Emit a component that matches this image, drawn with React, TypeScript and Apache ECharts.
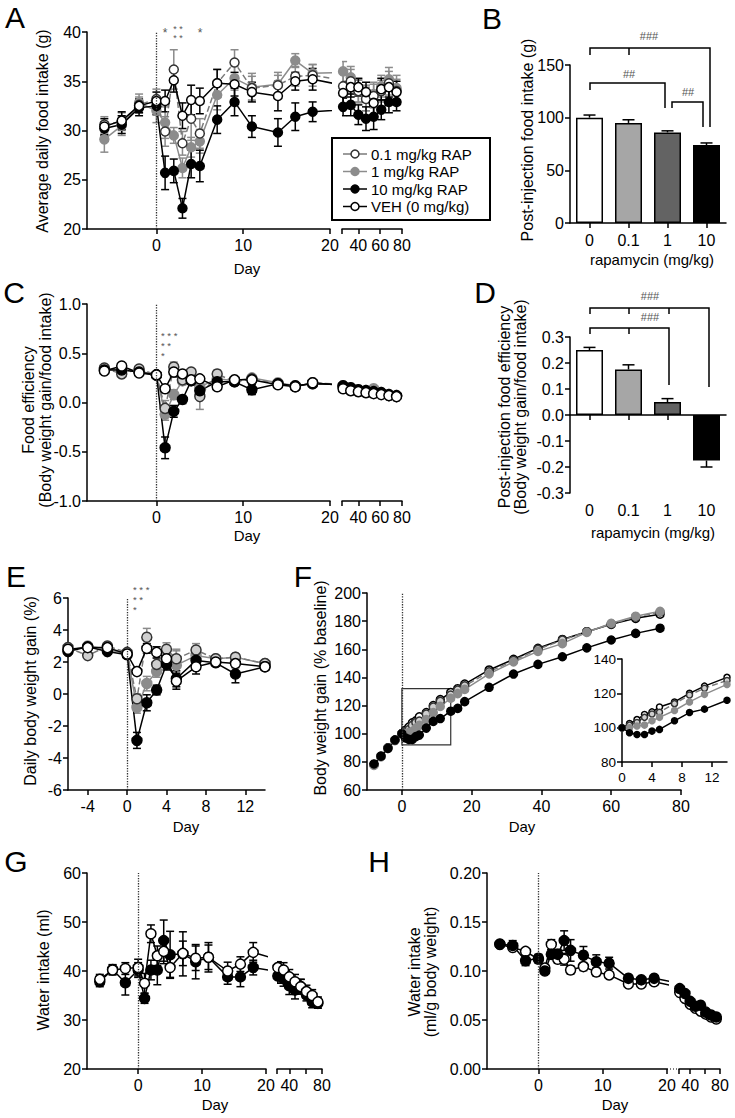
import React, { useEffect, useRef } from "react";
import * as echarts from "echarts";

const FONT = "Liberation Sans, Arial, Helvetica, sans-serif";

// ---------- days ----------
const daysSeg1 = [-6, -4, -2, 0, 1, 2, 3, 4, 5, 7, 9, 11, 14, 16, 18];
const daysSeg2 = [26, 33, 40, 47, 54, 61, 68, 75];
const daysE = [-6, -4, -2, 0, 1, 2, 3, 4, 5, 7, 9, 11, 14];
const daysF = [-8, -6, -4, -2, 0, 1, 2, 3, 4, 5, 7, 9, 11, 14, 16, 18, 25, 32, 39, 46, 53, 60, 67, 74];

// ---------- A: average daily food intake (g) ----------
const foodVeh1 = [30.4, 31.0, 32.5, 33.0, 33.0, 35.1, 31.5, 33.1, 33.0, 34.8, 34.7, 33.9, 33.5, 35.0, 35.2];
const foodVeh2 = [33.8, 34.4, 34.4, 33.9, 32.8, 34.2, 34.4, 33.9];
const foodVehErr1 = [0.8, 0.9, 0.7, 0.9, 1.1, 1.2, 1.3, 1.5, 1.3, 1.4, 1.2, 1.0, 1.5, 0.9, 1.1];
const foodVehErr2 = [1.1, 1.0, 0.9, 1.0, 1.2, 1.1, 1.0, 1.1];
const foodP1a = [30.6, 30.9, 32.6, 33.2, 29.9, 36.2, 28.7, 31.2, 29.7, 34.8, 36.9, 34.3, 34.6, 35.5, 35.6];
const foodP1b = [34.5, 35.0, 34.0, 33.2, 33.5, 34.0, 34.8, 34.0];
const foodP1Err1 = [0.8, 0.9, 0.8, 1.0, 1.5, 2.0, 1.2, 2.2, 1.5, 1.4, 1.3, 1.2, 1.3, 1.0, 1.1];
const foodP1Err2 = [1.2, 1.2, 1.1, 1.2, 1.2, 1.1, 1.2, 1.2];
const food1a = [29.1, 30.5, 32.8, 32.0, 30.8, 29.5, 26.2, 28.3, 28.9, 33.6, 35.3, 34.4, 34.7, 37.1, 35.8];
const food1b = [36.0, 35.4, 34.0, 33.3, 33.7, 34.5, 35.2, 34.3];
const food1Err1 = [1.3, 1.0, 0.9, 1.2, 1.6, 0.8, 1.0, 1.0, 1.2, 1.5, 1.2, 1.4, 0.9, 0.7, 0.9];
const food1Err2 = [1.0, 1.1, 1.2, 1.3, 1.2, 1.1, 1.2, 1.3];
const food10a = [30.2, 30.6, 32.3, 32.5, 25.7, 25.9, 22.1, 26.6, 26.4, 31.1, 32.9, 30.4, 29.8, 31.4, 31.9];
const food10b = [32.4, 32.6, 31.6, 31.2, 31.4, 32.1, 32.9, 32.9];
const food10Err1 = [0.7, 0.9, 0.8, 0.9, 1.7, 1.2, 1.0, 1.4, 1.6, 1.4, 1.4, 1.1, 1.4, 1.4, 1.0];
const food10Err2 = [0.9, 1.1, 1.0, 1.2, 1.3, 1.0, 1.1, 0.9];

// ---------- B / D: bars ----------
const doseLabels = ["0", "0.1", "1", "10"];
const postIntake = [100, 95, 86, 74];
const postIntakeErr = [2.5, 3, 1.5, 2];
const postEff = [0.25, 0.175, 0.05, -0.175];
const postEffErr = [0.01, 0.018, 0.013, 0.025];
const barFills = ["#ffffff", "#a6a6a6", "#636363", "#000000"];

// ---------- C: food efficiency ----------
const effVeh1 = [0.32, 0.37, 0.3, 0.28, 0.14, 0.31, 0.29, 0.23, 0.24, 0.16, 0.23, 0.23, 0.18, 0.16, 0.2];
const effVeh2 = [0.14, 0.12, 0.11, 0.1, 0.09, 0.08, 0.07, 0.06];
const effVehErr1 = [0.02, 0.02, 0.02, 0.02, 0.03, 0.05, 0.03, 0.02, 0.03, 0.03, 0.02, 0.02, 0.02, 0.02, 0.02];
const effP1a = [0.35, 0.29, 0.34, 0.28, -0.06, 0.36, 0.23, 0.31, 0.06, 0.29, 0.21, 0.24, 0.19, 0.16, 0.2];
const effP1b = [0.16, 0.14, 0.12, 0.11, 0.1, 0.09, 0.07, 0.06];
const effP1Err1 = [0.02, 0.02, 0.02, 0.02, 0.08, 0.05, 0.04, 0.03, 0.13, 0.04, 0.03, 0.03, 0.02, 0.02, 0.02];
const eff1a = [0.34, 0.33, 0.32, 0.28, -0.12, 0.08, 0.22, 0.25, 0.16, 0.24, 0.22, 0.25, 0.2, 0.17, 0.19];
const eff1b = [0.17, 0.15, 0.13, 0.12, 0.14, 0.1, 0.08, 0.07];
const eff1Err1 = [0.02, 0.02, 0.02, 0.02, 0.06, 0.05, 0.04, 0.03, 0.04, 0.03, 0.03, 0.03, 0.02, 0.02, 0.02];
const eff10a = [0.33, 0.33, 0.31, 0.28, -0.46, -0.09, 0.03, 0.22, 0.12, 0.21, 0.21, 0.13, 0.19, 0.17, 0.19];
const eff10b = [0.17, 0.15, 0.13, 0.12, 0.11, 0.1, 0.08, 0.07];
const eff10Err1 = [0.02, 0.02, 0.02, 0.02, 0.11, 0.06, 0.04, 0.03, 0.05, 0.03, 0.03, 0.05, 0.02, 0.02, 0.02];
const effErr2 = [0.01, 0.01, 0.01, 0.01, 0.01, 0.01, 0.01, 0.01];

// ---------- E: daily body weight gain (%) ----------
const gainVeh = [2.8, 2.9, 2.9, 2.5, 1.4, 2.85, 2.6, 2.2, 0.8, 1.7, 2.0, 1.9, 1.7];
const gainVehErr = [0.15, 0.15, 0.15, 0.15, 0.2, 0.3, 0.35, 0.3, 0.5, 0.45, 0.2, 0.25, 0.15];
const gainP1 = [2.9, 2.4, 3.0, 2.6, -0.3, 3.55, 1.85, 2.8, 2.2, 2.75, 2.2, 2.3, 1.9];
const gainP1Err = [0.15, 0.2, 0.15, 0.15, 0.3, 0.55, 0.4, 0.4, 0.5, 0.4, 0.2, 0.2, 0.15];
const gain1 = [2.7, 3.0, 2.8, 2.5, -0.85, 0.65, 1.4, 2.0, 1.8, 2.4, 2.2, 2.3, 1.9];
const gain1Err = [0.15, 0.15, 0.15, 0.15, 0.35, 0.45, 0.35, 0.3, 1.0, 0.3, 0.2, 0.2, 0.15];
const gain10 = [2.65, 2.95, 2.65, 2.45, -2.9, -0.55, 0.25, 1.85, 0.95, 2.1, 1.95, 1.25, 1.7];
const gain10Err = [0.15, 0.15, 0.15, 0.15, 0.5, 0.5, 0.3, 0.35, 0.5, 0.3, 0.2, 0.55, 0.2];

// ---------- F: body weight (% baseline) ----------
const bwVeh = [78, 84, 90, 95.5, 100, 102.4, 104.7, 107.7, 109.2, 112, 115, 120, 124.2, 129.3, 132, 135.3, 145.3, 152.9, 160.7, 167, 172.5, 177.7, 182, 184.9];
const bwP1 = [78, 84, 90, 95.5, 100, 101.5, 103, 106, 108, 109, 114, 119, 123, 127.5, 131, 134, 144, 152, 160, 166.5, 172.5, 178, 183, 186.5];
const bw1 = [77.5, 83.5, 89.5, 95, 100, 100, 101, 101.5, 104, 106, 110, 115, 119.4, 125.2, 128.5, 131.5, 142.5, 151, 158.5, 164, 172, 178.5, 183.5, 187];
const bw10 = [78.5, 84, 89.6, 95.5, 100, 97, 96, 96, 98, 99, 104, 108.8, 110.8, 116, 118, 122.8, 133, 142.4, 149.3, 154.7, 161, 166.6, 171.3, 175];
const insetBox = [[0, 92], [14, 132]];

// ---------- G: water intake (ml) ----------
const waterVeh1 = [38.3, 40.2, 40.5, 40.7, 37.5, 47.6, 43.1, 44.0, 40.7, 43.6, 42.6, 42.8, 40.0, 41.4, 43.8];
const waterVeh2 = [40.7, 40.2, 38.8, 37.8, 36.8, 35.8, 35.0, 33.7];
const waterVehErr1 = [1.0, 1.0, 1.2, 1.7, 2.0, 1.8, 2.0, 2.5, 2.0, 2.5, 2.5, 2.5, 1.8, 1.5, 2.0];
const waterVehErr2 = [1.2, 1.5, 1.5, 1.5, 1.5, 1.3, 1.2, 1.0];
const water10a = [37.8, 40.3, 37.6, 40.2, 34.4, 40.2, 40.2, 46.2, 43.3, 43.5, 41.9, 42.8, 38.8, 38.8, 40.7];
const water10b = [39.0, 38.4, 37.0, 36.1, 36.8, 35.1, 33.7, 33.4];
const water10Err1 = [1.0, 1.0, 2.5, 1.5, 1.0, 2.0, 3.0, 4.2, 4.8, 4.5, 3.5, 3.0, 1.5, 2.0, 1.5];
const water10Err2 = [1.5, 1.5, 1.8, 1.8, 1.5, 1.2, 1.2, 1.0];

// ---------- H: water intake (ml/g body weight) ----------
const wpbVeh1 = [0.127, 0.124, 0.12, 0.112, 0.103, 0.127, 0.112, 0.112, 0.101, 0.1045, 0.099, 0.096, 0.0867, 0.0867, 0.089];
const wpbVeh2 = [0.078, 0.072, 0.066, 0.062, 0.059, 0.056, 0.053, 0.051];
const wpbVehErr1 = [0.002, 0.003, 0.003, 0.004, 0.003, 0.005, 0.004, 0.006, 0.004, 0.004, 0.004, 0.003, 0.002, 0.002, 0.003];
const wpb10a = [0.1276, 0.126, 0.1105, 0.113, 0.1, 0.117, 0.117, 0.131, 0.121, 0.116, 0.1095, 0.108, 0.0925, 0.091, 0.0925];
const wpb10b = [0.082, 0.077, 0.069, 0.064, 0.065, 0.058, 0.055, 0.053];
const wpb10Err1 = [0.002, 0.005, 0.005, 0.004, 0.003, 0.005, 0.005, 0.01, 0.011, 0.009, 0.007, 0.006, 0.003, 0.002, 0.002];
const wpbErr2 = [0.002, 0.002, 0.002, 0.002, 0.002, 0.002, 0.002, 0.002];

// ---------- styles ----------
const ST = {
  p1: { name: "0.1 mg/kg RAP", fill: "#ffffff", alt: "#cfcfcf", border: "#333333", line: "#7a7a7a", dash: "dashed", err: "#8a8a8a" },
  m1: { name: "1 mg/kg RAP", fill: "#8c8c8c", alt: "#8c8c8c", border: "#8c8c8c", line: "#8c8c8c", dash: "solid", err: "#8c8c8c" },
  m10: { name: "10 mg/kg RAP", fill: "#000000", alt: "#000000", border: "#000000", line: "#000000", dash: "solid", err: "#000000" },
  veh: { name: "VEH (0 mg/kg)", fill: "#ffffff", alt: "#ffffff", border: "#000000", line: "#000000", dash: "solid", err: "#000000" },
};

const AX = { color: "#000", width: 1.5 };

function zip(d: number[], v: number[]) {
  return d.map((x, i) => [x, v[i]]);
}
function zip3(d: number[], v: number[], e: number[]) {
  return d.map((x, i) => [x, v[i], e[i]]);
}

function lineS(grid: number, st: any, fill: string, data: any[], size: number, extra: any = {}) {
  return {
    type: "line",
    xAxisIndex: grid,
    yAxisIndex: grid,
    data,
    symbol: "circle",
    symbolSize: size,
    showSymbol: true,
    clip: true,
    z: 3,
    lineStyle: { color: st.line, width: 1.5, type: st.dash },
    itemStyle: { color: fill, borderColor: st.border, borderWidth: 1.5 },
    emphasis: { disabled: true },
    silent: true,
    ...extra,
  };
}

function errS(grid: number, data: any[], color: string, hw = 4, oneSided = false, z = 2) {
  return {
    type: "custom",
    xAxisIndex: grid,
    yAxisIndex: grid,
    z,
    silent: true,
    clip: true,
    data,
    encode: { x: 0, y: 1 },
    renderItem: (params: any, api: any) => {
      const x = api.value(0);
      const y = api.value(1);
      const e = api.value(2);
      const dir = y >= 0 ? 1 : -1;
      const lo = oneSided ? y : y - e;
      const hi = oneSided ? y + dir * e : y + e;
      const p0 = api.coord([x, lo]);
      const p1 = api.coord([x, hi]);
      const style = { stroke: color, lineWidth: 1.5, fill: null };
      const children: any[] = [
        { type: "line", shape: { x1: p0[0], y1: p0[1], x2: p1[0], y2: p1[1] }, style },
        { type: "line", shape: { x1: p1[0] - hw, y1: p1[1], x2: p1[0] + hw, y2: p1[1] }, style },
      ];
      if (!oneSided) children.push({ type: "line", shape: { x1: p0[0] - hw, y1: p0[1], x2: p0[0] + hw, y2: p0[1] }, style });
      return { type: "group", children };
    },
  };
}

const zeroLine = {
  silent: true,
  symbol: ["none", "none"],
  label: { show: false },
  lineStyle: { type: "dotted", color: "#333", width: 1.3 },
  data: [{ xAxis: 0 }],
};

// broken-axis panel: groups drawn on grid g1 (early days) and g2 (late days)
function brokenPanel(g1: number, g2: number, groups: any[], size: number) {
  const errs: any[] = [];
  const lines: any[] = [];
  groups.forEach((gr, gi) => {
    const d1: any[] = zip(daysSeg1, gr.v1);
    d1.push({ value: [daysSeg2[0], gr.v2[0]], symbol: "none" });
    const d2: any[] = [{ value: [daysSeg1[daysSeg1.length - 1], gr.v1[gr.v1.length - 1]], symbol: "none" }];
    zip(daysSeg2, gr.v2).forEach((p) => d2.push(p));
    errs.push(errS(g1, zip3(daysSeg1, gr.v1, gr.e1), gr.st.err));
    errs.push(errS(g2, zip3(daysSeg2, gr.v2, gr.e2), gr.st.err));
    lines.push(lineS(g1, gr.st, gr.fill, d1, size, gi === 0 ? { markLine: zeroLine } : {}));
    lines.push(lineS(g2, gr.st, gr.fill, d2, size));
  });
  return [...errs, ...lines];
}

function valX(grid: number, min: number, max: number, ticks: number[], labels: number[], fs = 16) {
  return {
    type: "value",
    gridIndex: grid,
    min,
    max,
    axisLine: { show: true, onZero: false, lineStyle: AX },
    axisTick: { show: true, length: 5, customValues: ticks, lineStyle: AX },
    axisLabel: { customValues: labels, color: "#000", fontSize: fs, fontFamily: FONT, margin: 8 },
    splitLine: { show: false },
  };
}
function valY(grid: number, min: number, max: number, interval: number, fmt: any, show = true, fs = 16) {
  return {
    type: "value",
    gridIndex: grid,
    min,
    max,
    interval,
    show,
    axisLine: { show: true, onZero: false, lineStyle: AX },
    axisTick: { show: true, length: 5, lineStyle: AX },
    axisLabel: { color: "#000", fontSize: fs, fontFamily: FONT, margin: 6, formatter: fmt },
    splitLine: { show: false },
  };
}
const fx = (n: number) => (v: number) => (Math.abs(v) < 1e-9 ? (0).toFixed(n) : v.toFixed(n));

function txt(x: number, y: number, text: string, fs: number, opts: any = {}) {
  return {
    type: "text",
    x,
    y,
    rotation: opts.rot ? Math.PI / 2 : 0,
    silent: true,
    style: {
      text,
      fontSize: fs,
      fontFamily: FONT,
      fill: opts.color || "#000",
      align: opts.align || "center",
      verticalAlign: "middle",
      textAlign: opts.align || "center",
      textVerticalAlign: "middle",
      lineHeight: opts.lh || fs + 2,
    },
  };
}
function poly(points: number[][], lw = 1.5) {
  return { type: "polyline", silent: true, shape: { points }, style: { stroke: "#000", lineWidth: lw, fill: null } };
}

function buildOption() {
  const grids = [
    { left: 87, top: 32, width: 243, height: 197 }, // 0 A1
    { left: 342, top: 32, width: 60, height: 197 }, // 1 A2
    { left: 570, top: 65, width: 156, height: 158 }, // 2 B
    { left: 87, top: 304, width: 243, height: 197 }, // 3 C1
    { left: 342, top: 304, width: 60, height: 197 }, // 4 C2
    { left: 570, top: 337, width: 156, height: 156 }, // 5 D
    { left: 68, top: 598, width: 197, height: 192 }, // 6 E
    { left: 367, top: 593, width: 314, height: 197 }, // 7 F
    { left: 622, top: 659, width: 105, height: 103 }, // 8 F inset
    { left: 87, top: 873, width: 179, height: 196 }, // 9 G1
    { left: 277, top: 873, width: 45, height: 196 }, // 10 G2
    { left: 487, top: 873, width: 180, height: 196 }, // 11 H1
    { left: 679, top: 873, width: 41, height: 196 }, // 12 H2
  ].map((g) => ({ ...g, containLabel: false, outerBoundsMode: "none" }));

  const catX = (grid: number, showLabel: boolean) => ({
    type: "category",
    gridIndex: grid,
    data: doseLabels,
    axisLine: { show: true, lineStyle: AX },
    axisTick: { show: true, alignWithLabel: true, length: 5, lineStyle: AX },
    axisLabel: { show: showLabel, color: "#000", fontSize: 16, fontFamily: FONT, margin: 9 },
    splitLine: { show: false },
  });

  const xAxis: any[] = [
    valX(0, -8, 20, [0, 10, 20], [0, 10, 20]),
    valX(1, 25, 80, [25, 40, 60, 80], [40, 60, 80]),
    catX(2, true),
    valX(3, -8, 20, [0, 10, 20], [0, 10, 20]),
    valX(4, 25, 80, [25, 40, 60, 80], [40, 60, 80]),
    catX(5, false),
    valX(6, -6, 14, [-4, 0, 4, 8, 12], [-4, 0, 4, 8, 12]),
    valX(7, -10, 80, [0, 20, 40, 60, 80], [0, 20, 40, 60, 80]),
    { ...valX(8, 0, 14, [0, 4, 8, 12], [0, 4, 8, 12], 13.5), interval: 4 },
    valX(9, -8, 20, [0, 10, 20], [0, 10, 20]),
    valX(10, 25, 80, [25, 40, 60, 80], [40, 80]),
    valX(11, -8, 20, [0, 10, 20], [0, 10, 20]),
    valX(12, 25, 80, [25, 40, 60, 80], [40, 80]),
    {
      type: "category",
      gridIndex: 5,
      position: "bottom",
      data: doseLabels,
      axisLine: { show: false, onZero: false },
      axisTick: { show: false },
      axisLabel: { color: "#000", fontSize: 16, fontFamily: FONT, margin: 9 },
    },
  ];

  const yAxis: any[] = [
    valY(0, 20, 40, 5, null),
    valY(1, 20, 40, 5, null, false),
    valY(2, 0, 150, 50, null),
    valY(3, -1, 1, 0.5, fx(1)),
    valY(4, -1, 1, 0.5, fx(1), false),
    valY(5, -0.3, 0.3, 0.1, fx(1)),
    valY(6, -6, 6, 2, null),
    valY(7, 60, 200, 20, null),
    valY(8, 80, 140, 20, null, true, 13.5),
    valY(9, 20, 60, 10, null),
    valY(10, 20, 60, 10, null, false),
    valY(11, 0, 0.2, 0.05, fx(2)),
    valY(12, 0, 0.2, 0.05, fx(2), false),
  ];

  const series: any[] = [];

  // A
  series.push(
    ...brokenPanel(0, 1, [
      { st: ST.m1, fill: ST.m1.fill, v1: food1a, v2: food1b, e1: food1Err1, e2: food1Err2 },
      { st: ST.p1, fill: ST.p1.fill, v1: foodP1a, v2: foodP1b, e1: foodP1Err1, e2: foodP1Err2 },
      { st: ST.m10, fill: ST.m10.fill, v1: food10a, v2: food10b, e1: food10Err1, e2: food10Err2 },
      { st: ST.veh, fill: ST.veh.fill, v1: foodVeh1, v2: foodVeh2, e1: foodVehErr1, e2: foodVehErr2 },
    ], 9)
  );

  // C
  series.push(
    ...brokenPanel(3, 4, [
      { st: ST.m1, fill: ST.m1.alt, v1: eff1a, v2: eff1b, e1: eff1Err1, e2: effErr2 },
      { st: ST.p1, fill: ST.p1.alt, v1: effP1a, v2: effP1b, e1: effP1Err1, e2: effErr2 },
      { st: ST.m10, fill: ST.m10.fill, v1: eff10a, v2: eff10b, e1: eff10Err1, e2: effErr2 },
      { st: ST.veh, fill: ST.veh.fill, v1: effVeh1, v2: effVeh2, e1: effVehErr1, e2: effErr2 },
    ], 10)
  );

  // B bars
  series.push({
    type: "bar",
    xAxisIndex: 2,
    yAxisIndex: 2,
    barWidth: 27,
    silent: true,
    z: 2,
    data: postIntake.map((v, i) => ({ value: v, itemStyle: { color: barFills[i], borderColor: "#000", borderWidth: 1.5 } })),
  });
  series.push(errS(2, postIntake.map((v, i) => [i, v, postIntakeErr[i]]), "#000", 6, true, 3));

  // D bars
  series.push({
    type: "bar",
    xAxisIndex: 5,
    yAxisIndex: 5,
    barWidth: 27,
    silent: true,
    z: 2,
    data: postEff.map((v, i) => ({ value: v, itemStyle: { color: barFills[i], borderColor: "#000", borderWidth: 1.5 } })),
  });
  series.push(errS(5, postEff.map((v, i) => [i, v, postEffErr[i]]), "#000", 6, true, 3));

  // E
  const eGroups = [
    { st: ST.m1, v: gain1, e: gain1Err },
    { st: ST.p1, v: gainP1, e: gainP1Err },
    { st: ST.m10, v: gain10, e: gain10Err },
    { st: ST.veh, v: gainVeh, e: gainVehErr },
  ];
  eGroups.forEach((g) => series.push(errS(6, zip3(daysE, g.v, g.e), g.st.err)));
  eGroups.forEach((g, i) =>
    series.push(lineS(6, g.st, g.st.alt, zip(daysE, g.v), 10, i === 0 ? { markLine: zeroLine } : {}))
  );

  // F + inset (black drawn last, on top)
  const fGroups = [
    { st: ST.veh, v: bwVeh },
    { st: ST.p1, v: bwP1 },
    { st: ST.m1, v: bw1 },
    { st: ST.m10, v: bw10 },
  ];
  fGroups.forEach((g, i) => {
    const extra: any = i === 0
      ? {
          markLine: zeroLine,
          markArea: {
            silent: true,
            itemStyle: { color: "rgba(0,0,0,0)", borderColor: "#333", borderWidth: 1.2 },
            data: [[{ coord: insetBox[0] }, { coord: insetBox[1] }]],
          },
        }
      : {};
    series.push(lineS(7, g.st, g.st.alt, zip(daysF, g.v), 8, extra));
  });
  fGroups.forEach((g) => series.push(lineS(8, g.st, g.st.alt, zip(daysF, g.v), 6)));

  // G
  series.push(
    ...brokenPanel(9, 10, [
      { st: ST.m10, fill: ST.m10.fill, v1: water10a, v2: water10b, e1: water10Err1, e2: water10Err2 },
      { st: ST.veh, fill: ST.veh.fill, v1: waterVeh1, v2: waterVeh2, e1: waterVehErr1, e2: waterVehErr2 },
    ], 10)
  );

  // H
  series.push(
    ...brokenPanel(11, 12, [
      { st: ST.veh, fill: ST.veh.fill, v1: wpbVeh1, v2: wpbVeh2, e1: wpbVehErr1, e2: wpbErr2 },
      { st: ST.m10, fill: ST.m10.fill, v1: wpb10a, v2: wpb10b, e1: wpb10Err1, e2: wpbErr2 },
    ], 10)
  );

  // ---------- graphic annotations ----------
  const g: any[] = [];
  // panel letters
  [["A", 15, 17], ["B", 492, 18], ["C", 14, 292], ["D", 485, 292], ["E", 16, 576], ["F", 303, 576], ["G", 16, 861], ["H", 379, 861]].forEach(
    ([t, x, y]: any) => g.push(txt(x, y, t, 30))
  );
  // axis names
  g.push(txt(42, 131, "Average daily food intake (g)", 16, { rot: true }));
  g.push(txt(247, 268, "Day", 15));
  g.push(txt(527, 140, "Post-injection food intake (g)", 16, { rot: true }));
  g.push(txt(652, 259, "rapamycin (mg/kg)", 15));
  g.push(txt(37, 400, "Food efficiency\n(Body weight gain/food intake)", 16, { rot: true, lh: 17 }));
  g.push(txt(247, 535, "Day", 15));
  g.push(txt(512, 407, "Post-injection food efficiency\n(Body weight gain/food intake)", 16, { rot: true, lh: 16 }));
  g.push(txt(653, 532, "rapamycin (mg/kg)", 15));
  g.push(txt(30, 691, "Daily body weight gain (%)", 16, { rot: true }));
  g.push(txt(186, 826, "Day", 15));
  g.push(txt(320, 688, "Body weight gain (% baseline)", 16, { rot: true }));
  g.push(txt(522, 826, "Day", 15));
  g.push(txt(43, 970, "Water intake (ml)", 16, { rot: true }));
  g.push(txt(215, 1104, "Day", 15));
  g.push(txt(422, 972, "Water intake\n(ml/g body weight)", 16, { rot: true, lh: 16 }));
  g.push(txt(615, 1104, "Day", 15));

  // significance asterisks (small rows so that they do not overlap)
  const ac = { color: "#555" };
  const acl = { color: "#555", align: "left" };
  g.push(txt(165, 33, "*", 12, ac));
  g.push(txt(178, 29, "* *", 9, ac));
  g.push(txt(178, 38, "* *", 9, ac));
  g.push(txt(200, 33, "*", 12, ac));
  g.push(txt(161, 335, "* * *", 9.5, acl));
  g.push(txt(161, 345, "* *", 9.5, acl));
  g.push(txt(161, 355, "*", 9.5, acl));
  g.push(txt(133, 589, "* * *", 9.5, acl));
  g.push(txt(133, 599, "* *", 9.5, acl));
  g.push(txt(133, 609, "*", 9.5, acl));

  // B brackets
  g.push(poly([[590, 55], [590, 48], [710, 48], [710, 127]]));
  g.push(poly([[629, 48], [629, 55]]));
  g.push(txt(649, 36, "###", 11, { color: "#555" }));
  g.push(poly([[590, 90], [590, 83], [665, 83], [665, 108]]));
  g.push(txt(629, 74, "##", 11, { color: "#555" }));
  g.push(poly([[672, 108], [672, 102], [703, 102], [703, 127]]));
  g.push(txt(688, 92, "##", 11, { color: "#555" }));

  // D brackets
  g.push(poly([[590, 314], [590, 308], [709, 308], [709, 387]]));
  g.push(poly([[629, 308], [629, 314]]));
  g.push(poly([[669, 308], [669, 314]]));
  g.push(txt(650, 296, "###", 11, { color: "#555" }));
  g.push(poly([[590, 334], [590, 328], [669, 328], [669, 385]]));
  g.push(poly([[629, 328], [629, 334]]));
  g.push(txt(650, 317, "###", 11, { color: "#555" }));

  // H axis break (dotted)
  g.push({
    type: "line",
    silent: true,
    shape: { x1: 667, y1: 1069, x2: 679, y2: 1069 },
    style: { stroke: "#000", lineWidth: 1.2, lineDash: [1, 2] },
  });

  // A legend
  g.push({ type: "rect", silent: true, shape: { x: 332, y: 138, width: 158, height: 82 }, style: { stroke: "#000", lineWidth: 2, fill: "#fff" }, z: 10 });
  const leg = [ST.p1, ST.m1, ST.m10, ST.veh];
  const rows = [154, 171.5, 189, 206.5];
  leg.forEach((s, i) => {
    const y = rows[i];
    g.push({ type: "line", silent: true, z: 11, shape: { x1: 343, y1: y, x2: 367, y2: y }, style: { stroke: s.line, lineWidth: 1.5 } });
    g.push({ type: "circle", silent: true, z: 12, shape: { cx: 355, cy: y, r: 4 }, style: { fill: s.fill, stroke: s.border, lineWidth: 1.5 } });
    const t: any = txt(371, y, s.name, 15, { align: "left" });
    t.z = 12;
    g.push(t);
  });

  return {
    animation: false,
    backgroundColor: "#fff",
    textStyle: { fontFamily: FONT },
    grid: grids,
    xAxis,
    yAxis,
    series,
    graphic: { elements: g },
  };
}

export default function App() {
  const ref = useRef<HTMLDivElement>(null);
  useEffect(() => {
    if (!ref.current) return;
    const chart = echarts.init(ref.current, null, { renderer: "svg" });
    chart.setOption(buildOption() as any);
    return () => chart.dispose();
  }, []);
  return (
    <div
      ref={ref}
      style={{ position: "absolute", left: 0, top: 0, width: 735, height: 1118, background: "#fff" }}
    />
  );
}
